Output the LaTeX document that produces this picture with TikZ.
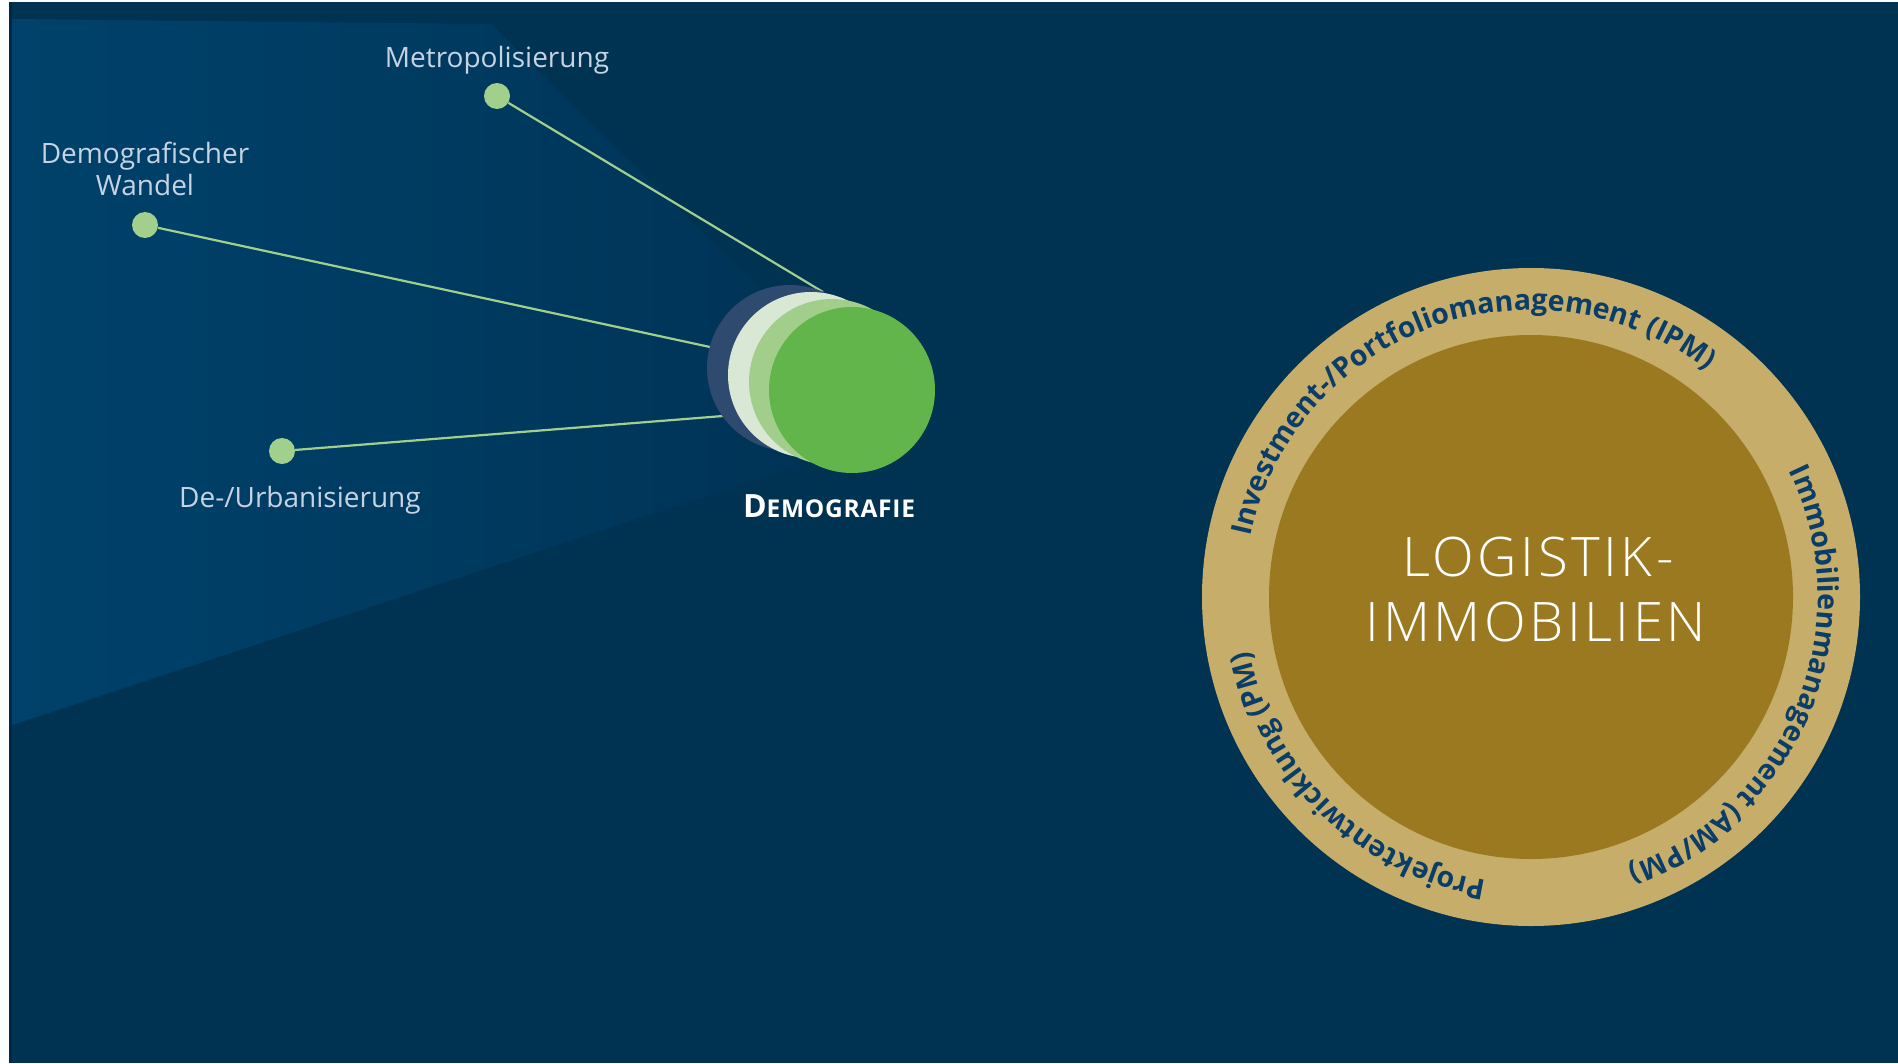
\documentclass[tikz,border=0pt]{standalone}
\usepackage{fontspec}
\setmainfont{Open Sans}
\IfFontExistsTF{Open Sans Light}{\newfontfamily\lightfnt{Open Sans Light}[LetterSpace=6.5]}{\newfontfamily\lightfnt{Open Sans}[LetterSpace=6.5]}
\newfontfamily\demofnt{Open Sans}[LetterSpace=3]
\usetikzlibrary{decorations.text}
\definecolor{bg}{HTML}{003252}
\definecolor{edgec}{HTML}{00284A}
\definecolor{conel}{HTML}{00426B}
\definecolor{coner}{HTML}{003254}
\definecolor{slate}{HTML}{2E4B6F}
\definecolor{pale}{HTML}{D8E8D5}
\definecolor{lgreen}{HTML}{A1CF8B}
\definecolor{dgreen}{HTML}{62B54B}
\definecolor{linkc}{HTML}{A1D08D}
\definecolor{labelc}{HTML}{C5D3E3}
\definecolor{ringc}{HTML}{C6AE6A}
\definecolor{corec}{HTML}{9A7920}
\definecolor{ringtext}{HTML}{0A3D68}
\newcommand\ringfnt{\bfseries\fontsize{28.5}{28.5}\selectfont}
\begin{document}
\begin{tikzpicture}[x=1pt,y=-1pt,
  dot/.style={circle,fill=linkc,minimum size=26pt,inner sep=0pt},
  link/.style={draw=linkc,line width=2.2pt},
  lbl/.style={anchor=base,inner sep=0pt,text=labelc,font=\fontsize{28}{33}\selectfont},
  disc/.style={circle,minimum size=166pt,inner sep=0pt},
  bigtxt/.style={anchor=base,inner sep=0pt,text=white,font=\lightfnt\fontsize{54.5}{54.5}\selectfont},
  ringtxt/.style={decorate,decoration={text along path,text align=center,text color=ringtext,text={#1}}}
]
\useasboundingbox (0,0) rectangle (1898,1063);
\fill[white] (0,0) rectangle (1898,1063);
\fill[bg] (9,2) rectangle (1898,1063);
\fill[edgec] (9,2) rectangle (12,1063);
% light cone
\shade[left color=conel,right color=coner] (12,19) -- (491,24) -- (904,431) -- (12,725) -- cycle;
% labels and dots
\node[lbl] (metlbl) at (497,67) {Metropolisierung};
\node[lbl] (dw1) at (145,163) {Demografischer};
\node[lbl] (dw2) at (145,195) {Wandel};
\node[lbl] (urblbl) at (300,507) {De-/Urbanisierung};
\node[dot] (metdot) at (497,96) {};
\node[dot] (dwdot) at (145,225) {};
\node[dot] (urbdot) at (282,451) {};
\coordinate (metend) at (823,292);
\coordinate (dwend) at (710,347);
\coordinate (urbend) at (723,416);
\draw[link] (metdot) -- (metend);
\draw[link] (dwdot) -- (dwend);
\draw[link] (urbdot) -- (urbend);
% demography circles
\node[disc,fill=slate] (c1) at (790,368) {};
\node[disc,fill=pale] (c2) at (811,375) {};
\node[disc,fill=lgreen] (c3) at (832,382) {};
\node[disc,fill=dgreen] (c4) at (852,390) {};
\node[anchor=base,inner sep=0pt,text=white,font=\demofnt\bfseries] (demolbl) at (829,517)
  {\fontsize{32}{32}\selectfont D\fontsize{24.5}{24.5}\selectfont EMOGRAFIE};
% big circle
\node[circle,fill=ringc,minimum size=658pt,inner sep=0pt] (ring) at (1531,597) {};
\node[circle,fill=corec,minimum size=524pt,inner sep=0pt] (core) at (1531,597) {};
\node[bigtxt] (log1) at (1538,576) {LOGISTIK-};
\node[bigtxt] (log2) at (1536,641) {IMMOBILIEN};
\begin{scope}[shift={(1531,597)}]
\begin{scope}[y=1pt]
\path[ringtxt={|\ringfnt|Investment-/Portfoliomanagement (IPM)}] (180:287) arc[start angle=180,end angle=40,radius=287];
\path[ringtxt={|\ringfnt|Immobilienmanagement (AM/PM)}] (48:287) arc[start angle=48,end angle=-92.2,radius=287];
\path[ringtxt={|\ringfnt|Projektentwicklung (PM)}] (-80:287) arc[start angle=-80,end angle=-188,radius=287];
\end{scope}
\end{scope}
\end{tikzpicture}
\end{document}
